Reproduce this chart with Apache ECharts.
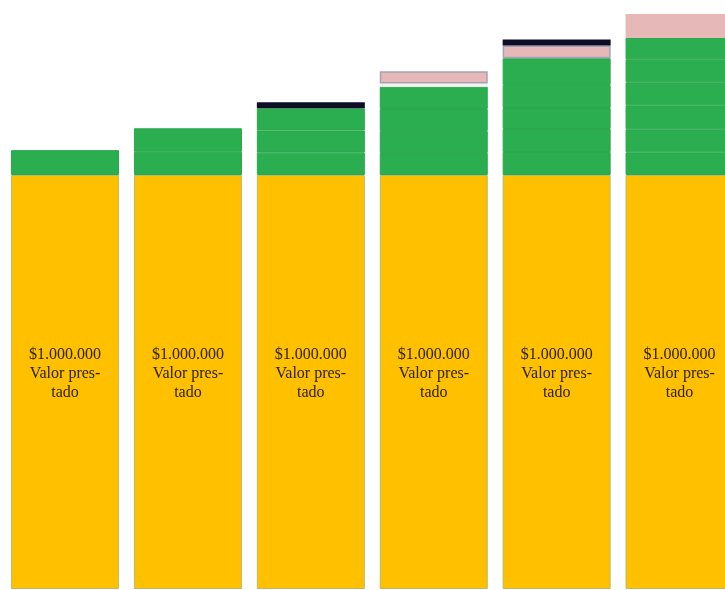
<!DOCTYPE html>
<html>
<head>
<meta charset="utf-8">
<script src="https://cdn.jsdelivr.net/npm/echarts@6/dist/echarts.min.js"></script>
<style>
  html, body { margin: 0; padding: 0; background: #fff; overflow: hidden; }
  #chart { width: 741px; height: 590px; }
</style>
</head>
<body>
<div id="chart"></div>
<script>
// datos
const periodos = ['1', '2', '3', '4', '5', '6'];
const valorPrestado = [1000000, 1000000, 1000000, 1000000, 1000000, 1000000];
// intereses por periodo (segmentos verdes, uno por año)
const intereses = [
  [60000],
  [56000, 56800],
  [54000, 53500, 53500],
  [53000, 53500, 53000, 53800],
  [55600, 55600, 50700, 55600, 64500],
  [54800, 55600, 58000, 55600, 55600, 51400]
];
const espacio = [null, null, null, 8000, null, null];
const rosa = [null, null, null, 29000, 30700, 58000];
const oscuro = [null, null, 14500, null, 14500, null];

const chart = echarts.init(document.getElementById('chart'));

const series = [];
series.push({
  name: 'Valor prestado',
  type: 'bar',
  stack: 'total',
  barWidth: 108,
  data: valorPrestado,
  itemStyle: { color: '#FFC000', borderColor: '#b6bb6a', borderWidth: 1 },
  label: {
    show: true,
    position: 'inside',
    offset: [0, -8],
    formatter: '$1.000.000\nValor pres-\ntado',
    fontFamily: 'Liberation Serif',
    fontSize: 16,
    lineHeight: 19,
    color: '#2e2300'
  }
});

const maxAnios = Math.max(...intereses.map(a => a.length));
for (let k = 0; k < maxAnios; k++) {
  series.push({
    name: 'Interes ' + (k + 1),
    type: 'bar',
    stack: 'total',
    barWidth: 108,
    data: intereses.map(a => (a[k] !== undefined ? a[k] : null)),
    itemStyle: { color: '#2BAE4F', borderColor: '#29a84c', borderWidth: 1 }
  });
}

series.push({
  name: 'espacio',
  type: 'bar',
  stack: 'total',
  barWidth: 108,
  data: espacio,
  itemStyle: { color: '#f3f3f3' }
});
series.push({
  name: 'rosa',
  type: 'bar',
  stack: 'total',
  barWidth: 108,
  data: rosa.map((v, i) => ({
    value: v,
    itemStyle: i === 5
      ? { color: '#E6B9B8', borderWidth: 0 }
      : { color: '#E6B9B8', borderColor: '#a6a2b6', borderWidth: 1.5 }
  }))
});
series.push({
  name: 'oscuro',
  type: 'bar',
  stack: 'total',
  barWidth: 108,
  data: oscuro,
  itemStyle: { color: '#0d0d26' }
});

const option = {
  animation: false,
  grid: { left: 3.6, right: 0, top: 0, bottom: 1 },
  xAxis: {
    type: 'category',
    data: periodos,
    show: false
  },
  yAxis: {
    type: 'value',
    min: 0,
    max: 1422700,
    show: false
  },
  series: series
};

chart.setOption(option);
</script>
</body>
</html>
